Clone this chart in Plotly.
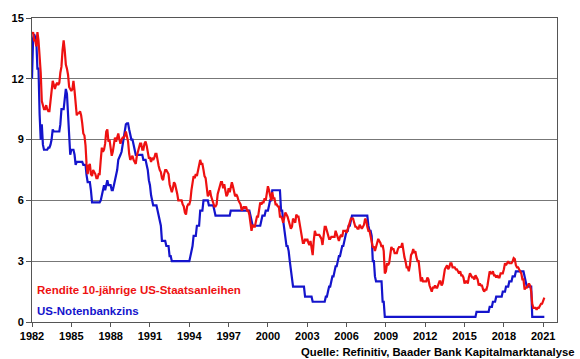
import pandas as pd
import plotly.graph_objects as go

# Monthly data, Jan 1982 .. Feb 2021
start_month = "1982-01-01"

yield_10y = [
    # 1982
    14.2, 14.3, 13.9, 13.9, 13.6, 14.3, 13.9, 13.1, 12.3, 10.9, 10.6, 10.5,
    # 1983
    10.5, 10.7, 10.5, 10.4, 10.4, 10.9, 11.4, 11.9, 11.7, 11.5, 11.7, 11.8,
    # 1984
    11.7, 11.8, 12.3, 12.6, 13.4, 13.9, 13.4, 12.7, 12.5, 12.2, 11.6, 11.5,
    # 1985
    11.4, 11.5, 11.9, 11.4, 10.9, 10.2, 10.3, 10.3, 10.4, 10.2, 9.8, 9.3,
    # 1986
    9.2, 8.7, 7.8, 7.3, 7.7, 7.8, 7.3, 7.2, 7.5, 7.4, 7.3, 7.1,
    # 1987
    7.1, 7.3, 7.3, 8.0, 8.6, 8.4, 8.5, 8.8, 9.4, 9.5, 8.9, 9.0,
    # 1988
    8.7, 8.2, 8.4, 8.7, 9.1, 8.9, 9.1, 9.3, 9.0, 8.8, 9.0, 9.1,
    # 1989
    9.1, 9.2, 9.4, 9.2, 8.9, 8.3, 8.0, 8.1, 8.2, 8.0, 7.9, 7.8,
    # 1990
    8.2, 8.5, 8.6, 8.8, 8.8, 8.5, 8.5, 8.8, 8.9, 8.7, 8.4, 8.1,
    # 1991
    8.1, 7.9, 8.1, 8.0, 8.1, 8.3, 8.3, 7.9, 7.7, 7.5, 7.4, 7.1,
    # 1992
    7.0, 7.3, 7.5, 7.5, 7.4, 7.3, 6.8, 6.6, 6.4, 6.6, 6.9, 6.8,
    # 1993
    6.6, 6.3, 6.0, 6.0, 6.0, 6.0, 5.8, 5.7, 5.4, 5.3, 5.7, 5.8,
    # 1994
    5.8, 6.0, 6.5, 7.0, 7.2, 7.1, 7.3, 7.2, 7.5, 7.7, 8.0, 7.8,
    # 1995
    7.8, 7.5, 7.2, 7.1, 6.6, 6.2, 6.3, 6.5, 6.2, 6.0, 5.9, 5.7,
    # 1996
    5.7, 5.8, 6.3, 6.5, 6.7, 6.9, 6.9, 6.6, 6.8, 6.5, 6.2, 6.3,
    # 1997
    6.6, 6.4, 6.7, 6.9, 6.7, 6.5, 6.2, 6.3, 6.2, 6.0, 5.9, 5.8,
    # 1998
    5.5, 5.6, 5.7, 5.6, 5.7, 5.5, 5.5, 5.3, 4.8, 4.5, 4.8, 4.7,
    # 1999
    4.7, 5.0, 5.2, 5.2, 5.5, 5.9, 5.8, 5.9, 5.9, 6.1, 6.0, 6.3,
    # 2000
    6.7, 6.5, 6.3, 6.0, 6.4, 6.1, 6.1, 5.8, 5.8, 5.7, 5.7, 5.2,
    # 2001
    5.2, 5.1, 4.9, 5.1, 5.4, 5.3, 5.2, 5.0, 4.7, 4.6, 4.7, 5.1,
    # 2002
    5.0, 4.9, 5.3, 5.2, 5.2, 4.9, 4.7, 4.3, 3.9, 3.9, 4.1, 4.0,
    # 2003
    4.1, 3.9, 3.8, 4.0, 3.6, 3.3, 4.0, 4.5, 4.3, 4.3, 4.3, 4.3,
    # 2004
    4.2, 4.1, 3.8, 4.4, 4.7, 4.7, 4.5, 4.3, 4.1, 4.1, 4.2, 4.2,
    # 2005
    4.2, 4.2, 4.5, 4.3, 4.1, 4.0, 4.2, 4.3, 4.2, 4.5, 4.5, 4.5,
    # 2006
    4.4, 4.6, 4.7, 5.0, 5.1, 5.1, 5.1, 4.9, 4.7, 4.7, 4.6, 4.6,
    # 2007
    4.8, 4.7, 4.6, 4.7, 4.8, 5.1, 5.0, 4.7, 4.5, 4.5, 4.2, 4.1,
    # 2008
    3.7, 3.7, 3.5, 3.7, 3.9, 4.1, 4.0, 3.9, 3.7, 3.8, 3.5, 2.4,
    # 2009
    2.5, 2.9, 2.8, 2.9, 3.3, 3.7, 3.6, 3.6, 3.4, 3.4, 3.4, 3.6,
    # 2010
    3.7, 3.7, 3.7, 3.9, 3.4, 3.2, 3.0, 2.7, 2.7, 2.5, 2.8, 3.3,
    # 2011
    3.4, 3.6, 3.4, 3.5, 3.2, 3.0, 3.0, 2.3, 2.0, 2.2, 2.0, 2.0,
    # 2012
    2.0, 2.0, 2.2, 2.1, 1.8, 1.6, 1.5, 1.7, 1.7, 1.8, 1.7, 1.7,
    # 2013
    1.9, 2.0, 2.0, 1.8, 1.9, 2.3, 2.6, 2.7, 2.8, 2.6, 2.7, 2.9,
    # 2014
    2.9, 2.7, 2.7, 2.7, 2.6, 2.6, 2.5, 2.4, 2.5, 2.3, 2.3, 2.2,
    # 2015
    1.9, 2.0, 2.0, 1.9, 2.2, 2.4, 2.3, 2.2, 2.2, 2.1, 2.3, 2.2,
    # 2016
    2.1, 1.8, 1.9, 1.8, 1.8, 1.6, 1.5, 1.6, 1.6, 1.8, 2.1, 2.5,
    # 2017
    2.4, 2.4, 2.5, 2.3, 2.3, 2.2, 2.3, 2.2, 2.2, 2.4, 2.4, 2.4,
    # 2018
    2.6, 2.9, 2.8, 2.9, 3.0, 2.9, 2.9, 2.9, 3.0, 3.15, 3.1, 2.8,
    # 2019
    2.7, 2.7, 2.6, 2.5, 2.4, 2.1, 2.1, 1.6, 1.7, 1.7, 1.8, 1.9,
    # 2020
    1.8, 1.5, 0.9, 0.7, 0.7, 0.7, 0.6, 0.7, 0.7, 0.8, 0.9, 0.9,
    # 2021
    1.1, 1.2,
]

fed_rate = [
    # 1982
    12.0, 14.0, 14.2, 14.0, 13.9, 12.5, 12.5, 10.25, 9.0, 9.75, 8.75, 8.5,
    # 1983
    8.5, 8.5, 8.5, 8.6, 8.6, 8.75, 9.0, 9.5, 9.4, 9.4, 9.4, 9.4,
    # 1984
    9.4, 9.4, 9.75, 10.5, 10.5, 10.5, 11.0, 11.5, 11.25, 10.0, 9.0, 8.25,
    # 1985
    8.5, 8.5, 8.5, 8.25, 7.75, 7.9, 7.9, 7.9, 7.9, 7.9, 7.9, 7.75,
    # 1986
    7.75, 7.75, 7.25, 6.9, 6.9, 6.9, 6.5, 5.9, 5.9, 5.9, 5.9, 5.9,
    # 1987
    5.9, 5.9, 5.9, 6.0, 6.25, 6.5, 6.75, 6.5, 6.75, 7.0, 6.75, 6.75,
    # 1988
    6.75, 6.5, 6.5, 6.75, 7.0, 7.25, 7.5, 8.0, 8.1, 8.25, 8.4, 8.75,
    # 1989
    9.0, 9.5, 9.75, 9.8, 9.8, 9.5, 9.25, 9.0, 9.0, 8.75, 8.5, 8.25,
    # 1990
    8.25, 8.25, 8.25, 8.25, 8.25, 8.25, 8.0, 8.0, 8.0, 7.75, 7.5, 7.0,
    # 1991
    6.75, 6.25, 6.0, 5.75, 5.75, 5.75, 5.75, 5.5, 5.25, 5.0, 4.75, 4.0,
    # 1992
    4.0, 4.0, 4.0, 3.75, 3.75, 3.75, 3.25, 3.25, 3.0, 3.0, 3.0, 3.0,
    # 1993
    3.0, 3.0, 3.0, 3.0, 3.0, 3.0, 3.0, 3.0, 3.0, 3.0, 3.0, 3.0,
    # 1994
    3.0, 3.25, 3.5, 3.75, 4.25, 4.25, 4.25, 4.75, 4.75, 4.75, 5.5, 5.5,
    # 1995
    5.5, 6.0, 6.0, 6.0, 6.0, 6.0, 5.75, 5.75, 5.75, 5.75, 5.75, 5.5,
    # 1996
    5.25, 5.25, 5.25, 5.25, 5.25, 5.25, 5.25, 5.25, 5.25, 5.25, 5.25, 5.25,
    # 1997
    5.25, 5.25, 5.5, 5.5, 5.5, 5.5, 5.5, 5.5, 5.5, 5.5, 5.5, 5.5,
    # 1998
    5.5, 5.5, 5.5, 5.5, 5.5, 5.5, 5.5, 5.5, 5.25, 5.0, 4.75, 4.75,
    # 1999
    4.75, 4.75, 4.75, 4.75, 4.75, 4.75, 5.0, 5.25, 5.25, 5.25, 5.5, 5.5,
    # 2000
    5.5, 5.75, 6.0, 6.0, 6.5, 6.5, 6.5, 6.5, 6.5, 6.5, 6.5, 6.5,
    # 2001
    5.5, 5.5, 5.0, 4.5, 4.0, 3.75, 3.75, 3.5, 3.0, 2.5, 2.0, 1.75,
    # 2002
    1.75, 1.75, 1.75, 1.75, 1.75, 1.75, 1.75, 1.75, 1.75, 1.75, 1.25, 1.25,
    # 2003
    1.25, 1.25, 1.25, 1.25, 1.25, 1.0, 1.0, 1.0, 1.0, 1.0, 1.0, 1.0,
    # 2004
    1.0, 1.0, 1.0, 1.0, 1.0, 1.25, 1.25, 1.5, 1.75, 1.75, 2.0, 2.25,
    # 2005
    2.25, 2.5, 2.75, 2.75, 3.0, 3.25, 3.25, 3.5, 3.75, 3.75, 4.0, 4.25,
    # 2006
    4.5, 4.5, 4.75, 4.75, 5.0, 5.25, 5.25, 5.25, 5.25, 5.25, 5.25, 5.25,
    # 2007
    5.25, 5.25, 5.25, 5.25, 5.25, 5.25, 5.25, 5.25, 4.75, 4.5, 4.5, 4.25,
    # 2008
    3.0, 3.0, 2.25, 2.0, 2.0, 2.0, 2.0, 2.0, 2.0, 1.0, 1.0, 0.25,
    # 2009
    0.25, 0.25, 0.25, 0.25, 0.25, 0.25, 0.25, 0.25, 0.25, 0.25, 0.25, 0.25,
    # 2010
    0.25, 0.25, 0.25, 0.25, 0.25, 0.25, 0.25, 0.25, 0.25, 0.25, 0.25, 0.25,
    # 2011
    0.25, 0.25, 0.25, 0.25, 0.25, 0.25, 0.25, 0.25, 0.25, 0.25, 0.25, 0.25,
    # 2012
    0.25, 0.25, 0.25, 0.25, 0.25, 0.25, 0.25, 0.25, 0.25, 0.25, 0.25, 0.25,
    # 2013
    0.25, 0.25, 0.25, 0.25, 0.25, 0.25, 0.25, 0.25, 0.25, 0.25, 0.25, 0.25,
    # 2014
    0.25, 0.25, 0.25, 0.25, 0.25, 0.25, 0.25, 0.25, 0.25, 0.25, 0.25, 0.25,
    # 2015
    0.25, 0.25, 0.25, 0.25, 0.25, 0.25, 0.25, 0.25, 0.25, 0.25, 0.25, 0.5,
    # 2016
    0.5, 0.5, 0.5, 0.5, 0.5, 0.5, 0.5, 0.5, 0.5, 0.5, 0.5, 0.75,
    # 2017
    0.75, 0.75, 1.0, 1.0, 1.0, 1.25, 1.25, 1.25, 1.25, 1.25, 1.25, 1.5,
    # 2018
    1.5, 1.5, 1.75, 1.75, 1.75, 2.0, 2.0, 2.0, 2.25, 2.25, 2.25, 2.5,
    # 2019
    2.5, 2.5, 2.5, 2.5, 2.5, 2.5, 2.5, 2.25, 2.0, 1.75, 1.75, 1.75,
    # 2020
    1.75, 1.75, 0.25, 0.25, 0.25, 0.25, 0.25, 0.25, 0.25, 0.25, 0.25, 0.25,
    # 2021
    0.25, 0.25,
]

tick_years = list(range(1982, 2022, 3))
y_ticks = [0, 3, 6, 9, 12, 15]

name_yield = "Rendite 10-jährige US-Staatsanleihen"
name_fed = "US-Notenbankzins"
source_text = "Quelle: Refinitiv, Baader Bank Kapitalmarktanalyse"

dates_y = pd.date_range(start_month, periods=len(yield_10y), freq="MS")
dates_f = pd.date_range(start_month, periods=len(fed_rate), freq="MS")

RED = "#EE1111"
BLUE = "#1414CC"
FONT = "Liberation Sans, Arial, sans-serif"

fig = go.Figure()
fig.add_trace(go.Scatter(x=dates_f, y=fed_rate, mode="lines", name=name_fed,
                         line=dict(color=BLUE, width=2.2)))
fig.add_trace(go.Scatter(x=dates_y, y=yield_10y, mode="lines", name=name_yield,
                         line=dict(color=RED, width=2.2)))

W, H = 580, 359
L, R, T, B = 23, 557, 15, 321.7

def px(xp):
    return (xp - L) / (R - L)

def py(yp):
    return (B - yp) / (B - T)

fig.update_layout(
    width=W, height=H,
    margin=dict(l=L, r=W - R, t=T, b=H - B, pad=0),
    paper_bgcolor="white", plot_bgcolor="white",
    showlegend=False,
    font=dict(family=FONT, size=11, color="black"),
    xaxis=dict(
        type="date",
        range=["1982-01-01", "2022-01-20"],
        tickvals=[f"{y}-01-01" for y in tick_years],
        ticktext=[str(y) for y in tick_years],
        tickfont=dict(family=FONT, size=11, color="black", weight="bold"),
        showgrid=False, zeroline=False,
        showline=True, linecolor="#555555", linewidth=1, mirror=True,
        ticks="outside", ticklen=4, tickcolor="#555555",
    ),
    yaxis=dict(
        range=[0, 15],
        tickvals=y_ticks,
        tickfont=dict(family=FONT, size=11, color="black", weight="bold"),
        showgrid=True, gridcolor="#777777", gridwidth=1,
        zeroline=False,
        showline=True, linecolor="#555555", linewidth=1, mirror=True,
        ticks="outside", ticklen=5, tickcolor="#555555",
    ),
    annotations=[
        dict(text=name_yield, xref="paper", yref="paper", x=px(26), y=py(289.3),
             xanchor="left", yanchor="middle", showarrow=False,
             font=dict(family=FONT, size=11.5, color=RED, weight="bold")),
        dict(text=name_fed, xref="paper", yref="paper", x=px(26), y=py(310.7),
             xanchor="left", yanchor="middle", showarrow=False,
             font=dict(family=FONT, size=11.5, color=BLUE, weight="bold")),
        dict(text=source_text, xref="paper", yref="paper", x=px(577), y=py(352),
             xanchor="right", yanchor="middle", showarrow=False,
             font=dict(family=FONT, size=11.3, color="black", weight="bold")),
    ],
)

fig.write_html("out.html", config={"displayModeBar": False},
               post_script="document.body.style.margin='0';")
